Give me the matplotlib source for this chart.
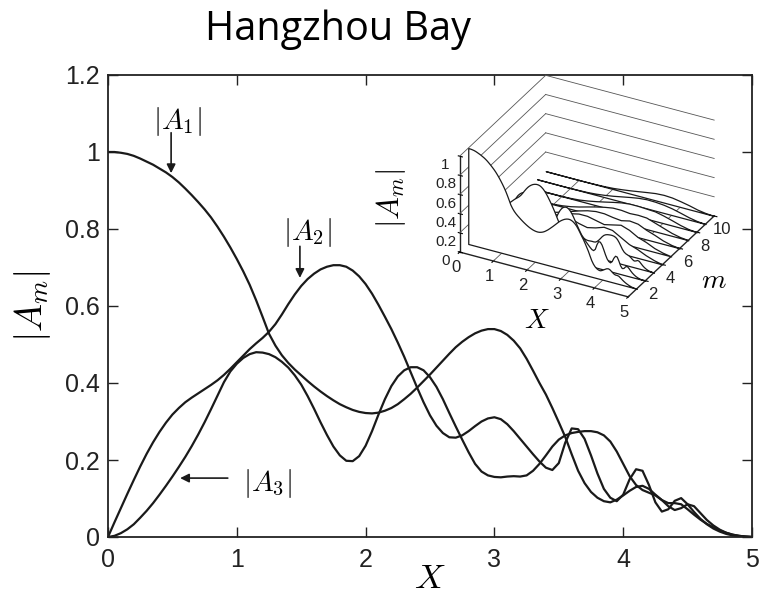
import numpy as np
import matplotlib
matplotlib.use("Agg")
import matplotlib.pyplot as plt
from mpl_toolkits.mplot3d.art3d import Poly3DCollection

plt.rcParams["mathtext.fontset"] = "cm"

# ---- harmonic amplitudes along the bay, sampled every 0.05 in X ----
x = np.round(np.arange(0, 5.0001, 0.05), 2)

a1 = [1.000, 1.000, 0.998, 0.995, 0.990, 0.983, 0.975, 0.967, 0.957, 0.947,
      0.935, 0.921, 0.905, 0.888, 0.870, 0.851, 0.830, 0.806, 0.780, 0.752,
      0.722, 0.690, 0.655, 0.615, 0.572, 0.528, 0.497, 0.472, 0.452, 0.435,
      0.420, 0.405, 0.391, 0.378, 0.366, 0.355, 0.345, 0.337, 0.330, 0.325,
      0.322, 0.321, 0.323, 0.328, 0.335, 0.345, 0.358, 0.372, 0.388, 0.405,
      0.422, 0.440, 0.458, 0.476, 0.493, 0.507, 0.519, 0.529, 0.536, 0.540,
      0.540, 0.535, 0.525, 0.510, 0.490, 0.463, 0.432, 0.400, 0.370, 0.335,
      0.298, 0.260, 0.215, 0.172, 0.140, 0.117, 0.102, 0.093, 0.090, 0.097,
      0.108, 0.120, 0.130, 0.133, 0.125, 0.110, 0.096, 0.088, 0.088, 0.085,
      0.072, 0.058, 0.045, 0.034, 0.025, 0.017, 0.011, 0.006, 0.003, 0.001,
      0.000]

a2 = [0.000, 0.038, 0.075, 0.112, 0.148, 0.183, 0.216, 0.246, 0.273, 0.297,
      0.318, 0.335, 0.350, 0.362, 0.373, 0.384, 0.395, 0.407, 0.421, 0.437,
      0.454, 0.471, 0.488, 0.503, 0.517, 0.533, 0.553, 0.578, 0.605, 0.630,
      0.652, 0.670, 0.684, 0.695, 0.702, 0.706, 0.706, 0.702, 0.692, 0.677,
      0.657, 0.632, 0.603, 0.572, 0.540, 0.505, 0.468, 0.428, 0.388, 0.350,
      0.316, 0.289, 0.270, 0.259, 0.258, 0.264, 0.275, 0.288, 0.300, 0.308,
      0.311, 0.306, 0.293, 0.275, 0.255, 0.235, 0.215, 0.196, 0.180, 0.174,
      0.192, 0.245, 0.282, 0.280, 0.255, 0.212, 0.165, 0.125, 0.102, 0.093,
      0.110, 0.150, 0.176, 0.172, 0.135, 0.090, 0.066, 0.072, 0.094, 0.101,
      0.085, 0.065, 0.047, 0.033, 0.022, 0.014, 0.008, 0.004, 0.002, 0.001,
      0.000]

a3 = [0.000, 0.003, 0.010, 0.020, 0.033, 0.050, 0.068, 0.088, 0.110, 0.133,
      0.157, 0.182, 0.208, 0.236, 0.266, 0.298, 0.332, 0.367, 0.402, 0.430,
      0.450, 0.465, 0.475, 0.480, 0.479, 0.475, 0.467, 0.455, 0.440, 0.420,
      0.396, 0.366, 0.333, 0.298, 0.265, 0.235, 0.212, 0.198, 0.197, 0.210,
      0.237, 0.275, 0.318, 0.358, 0.392, 0.417, 0.433, 0.441, 0.441, 0.433,
      0.415, 0.390, 0.358, 0.322, 0.287, 0.253, 0.220, 0.190, 0.170, 0.160,
      0.156, 0.155, 0.157, 0.158, 0.157, 0.160, 0.172, 0.190, 0.212, 0.235,
      0.253, 0.264, 0.270, 0.273, 0.275, 0.275, 0.272, 0.264, 0.248, 0.222,
      0.190, 0.158, 0.135, 0.122, 0.115, 0.108, 0.096, 0.080, 0.070, 0.075,
      0.085, 0.080, 0.062, 0.044, 0.030, 0.019, 0.011, 0.006, 0.003, 0.001,
      0.000]

# higher harmonics (m = 4..10) for the waterfall inset, every 0.25 in X
x_coarse = np.round(np.arange(0, 5.0001, 0.25), 2)
a4 = [0, 0.003, 0.015, 0.04, 0.08, 0.13, 0.18, 0.22, 0.24, 0.23, 0.20,
      0.18, 0.20, 0.23, 0.22, 0.17, 0.12, 0.09, 0.05, 0.02, 0]
a5 = [0, 0.001, 0.005, 0.015, 0.035, 0.065, 0.10, 0.14, 0.17, 0.19, 0.19,
      0.17, 0.15, 0.17, 0.19, 0.16, 0.11, 0.08, 0.04, 0.015, 0]
a6 = [0, 0, 0.002, 0.006, 0.015, 0.03, 0.055, 0.085, 0.115, 0.14, 0.155,
      0.155, 0.14, 0.13, 0.15, 0.14, 0.10, 0.07, 0.035, 0.012, 0]
a7 = [0, 0, 0.001, 0.002, 0.006, 0.014, 0.028, 0.048, 0.072, 0.095, 0.115,
      0.13, 0.13, 0.12, 0.125, 0.12, 0.09, 0.06, 0.03, 0.01, 0]
a8 = [0, 0, 0, 0.001, 0.002, 0.006, 0.013, 0.026, 0.043, 0.062, 0.082,
      0.10, 0.11, 0.11, 0.105, 0.10, 0.08, 0.055, 0.028, 0.008, 0]
a9 = [0, 0, 0, 0, 0.001, 0.003, 0.006, 0.013, 0.024, 0.038, 0.055,
      0.072, 0.087, 0.095, 0.093, 0.085, 0.07, 0.048, 0.024, 0.007, 0]
a10 = [0, 0, 0, 0, 0, 0.001, 0.003, 0.006, 0.012, 0.022, 0.034,
       0.048, 0.062, 0.075, 0.08, 0.075, 0.06, 0.042, 0.02, 0.006, 0]

x_ticks = [0, 1, 2, 3, 4, 5]
y_ticks = [0, 0.2, 0.4, 0.6, 0.8, 1.0, 1.2]
y_ticklabels = ["0", "0.2", "0.4", "0.6", "0.8", "1", "1.2"]

inset_x_ticks = [0, 1, 2, 3, 4, 5]
inset_m_ticks = [2, 4, 6, 8, 10]
inset_z_ticks = [0, 0.2, 0.4, 0.6, 0.8, 1.0]
inset_z_ticklabels = ["0", "0.2", "0.4", "0.6", "0.8", "1"]

W, H = 766, 596
fig = plt.figure(figsize=(W / 100, H / 100), dpi=100)

# ---- main axes ----
ax = fig.add_axes([108 / W, (H - 537) / H, (752 - 108) / W, (537 - 75) / H])
line_kw = dict(color="#1a1a1a", lw=1.6, solid_capstyle="round")
ax.plot(x, a1, **line_kw)
ax.plot(x, a2, **line_kw)
ax.plot(x, a3, **line_kw)

ax.set_xlim(0, 5)
ax.set_ylim(0, 1.2)
ax.set_xticks(x_ticks)
ax.set_xticklabels([str(t) for t in x_ticks])
ax.set_yticks(y_ticks)
ax.set_yticklabels(y_ticklabels)
ax.tick_params(direction="in", top=True, right=True, length=7, width=1.0,
               labelsize=18, colors="#222222")
ax.tick_params(axis="x", pad=8)
ax.tick_params(axis="y", pad=6)
for lab in ax.get_xticklabels() + ax.get_yticklabels():
    lab.set_family("Liberation Sans")
for sp in ax.spines.values():
    sp.set_linewidth(1.3)
    sp.set_color("#222222")

ax.set_xlabel(r"$X$", fontsize=25, va="center")
ax.xaxis.set_label_coords(0.5, -(578 - 537) / (537 - 75))
ax.set_ylabel(r"$|A_m|$", fontsize=27, va="center")
ax.yaxis.set_label_coords(-(108 - 32) / (752 - 108), 0.5)

arrow_kw = dict(arrowstyle="-|>", color="#1a1a1a", lw=1.2, mutation_scale=13,
                shrinkA=0, shrinkB=0)
ax.text(0.54, 1.08, r"$|A_1|$", fontsize=21, ha="center", va="center")
ax.annotate("", xy=(0.49, 0.945), xytext=(0.49, 1.05), arrowprops=arrow_kw)
ax.text(1.55, 0.79, r"$|A_2|$", fontsize=21, ha="center", va="center")
ax.annotate("", xy=(1.49, 0.673), xytext=(1.49, 0.755), arrowprops=arrow_kw)
ax.text(1.24, 0.14, r"$|A_3|$", fontsize=21, ha="center", va="center")
ax.annotate("", xy=(0.56, 0.153), xytext=(0.93, 0.153), arrowprops=arrow_kw)

fig.text(338 / W, 1 - 30 / H, "Hangzhou Bay", ha="center", va="center",
         fontsize=28.5, family="Open Sans")

# ---- waterfall inset of all harmonics ----
ax3 = fig.add_axes([438 / W, (H - 335) / H, 290 / W, 290 / H],
                   projection="3d", proj_type="ortho", computed_zorder=False)
ax3.set_facecolor("none")
ax3.view_init(elev=30, azim=-62)
ax3.set_box_aspect((1, 0.96, 0.58), zoom=0.96)
ax3.grid(False)

# guide lines: constant-height lines on the two back walls, grid on the floor
guide_kw = dict(color="#555555", lw=0.6, zorder=1)
for zt in inset_z_ticks[1:]:
    ax3.plot([0, 0], [0, 10], [zt, zt], **guide_kw)
    ax3.plot([0, 5], [10, 10], [zt, zt], **guide_kw)
for xt in inset_x_ticks[1:-1]:
    ax3.plot([xt, xt], [0, 10], [0, 0], **guide_kw)
for mt in inset_m_ticks[:-1]:
    ax3.plot([0, 5], [mt, mt], [0, 0], **guide_kw)

inset_series = [(1, x, a1), (2, x, a2), (3, x, a3), (4, x_coarse, a4),
                (5, x_coarse, a5), (6, x_coarse, a6), (7, x_coarse, a7),
                (8, x_coarse, a8), (9, x_coarse, a9), (10, x_coarse, a10)]
for m, xs, zs in inset_series:
    verts = [(xs[0], m, 0.0)] + [(xi, m, zi) for xi, zi in zip(xs, zs)] + [(xs[-1], m, 0.0)]
    poly = Poly3DCollection([verts], facecolor="white", edgecolor="#1a1a1a",
                            linewidth=0.9, zorder=3 + (10 - m) * 0.1)
    ax3.add_collection3d(poly)

ax3.set_xlim(0, 5)
ax3.set_ylim(0, 10)
ax3.set_zlim(0, 1)
ax3.set_xticks(inset_x_ticks)
ax3.set_yticks(inset_m_ticks)
ax3.set_zticks(inset_z_ticks)
ax3.set_zticklabels(inset_z_ticklabels)
# put the vertical axis on the front-left edge
ax3.zaxis._axinfo["juggled"] = (1, 2, 0)
for axis in (ax3.xaxis, ax3.yaxis, ax3.zaxis):
    axis.set_pane_color((1, 1, 1, 0))
    axis.pane.set_edgecolor("#333333")
    axis.line.set_color("#222222")
    axis.line.set_linewidth(1.0)
ax3.tick_params(axis="x", labelsize=12, pad=-3)
ax3.tick_params(axis="y", labelsize=12, pad=-3)
ax3.tick_params(axis="z", labelsize=11, pad=-2)
for lab in ax3.get_xticklabels() + ax3.get_yticklabels() + ax3.get_zticklabels():
    lab.set_family("Liberation Sans")
    lab.set_color("#222222")

fig.text(391 / W, 1 - 199 / H, r"$|A_m|$", fontsize=22, rotation=90,
         ha="center", va="center")
fig.text(537 / W, 1 - 320 / H, r"$X$", fontsize=20, ha="center", va="center")
fig.text(714 / W, 1 - 280 / H, r"$m$", fontsize=20, ha="center", va="center")

fig.savefig("out.png", dpi=100)
